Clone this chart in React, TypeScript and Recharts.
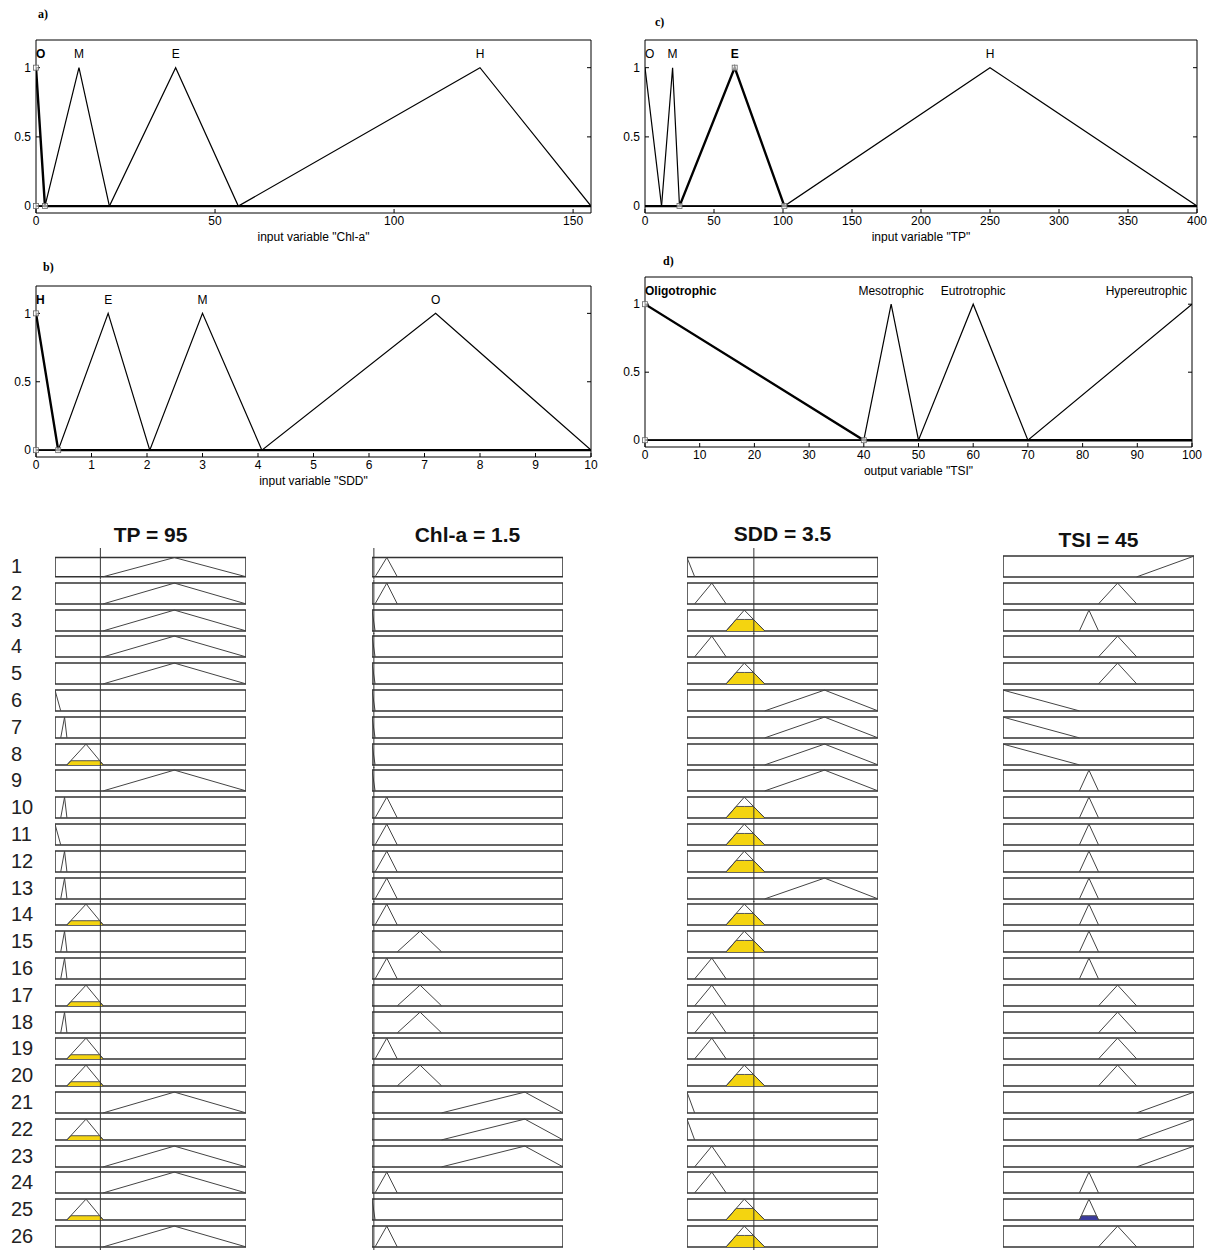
import React from "react";
import {
  LineChart,
  ComposedChart,
  Line,
  Area,
  XAxis,
  YAxis,
  ReferenceLine,
  ReferenceArea,
  ReferenceDot,
} from "recharts";

const FONT = '"Liberation Sans", Arial, Helvetica, sans-serif';
const SERIF = '"Liberation Serif", "Times New Roman", serif';

type Tri = [number, number, number];

// membership functions [a, b, c] (b = peak)
const mfNames = ["O", "M", "E", "H"];

const chlDomain: [number, number] = [0, 155];
const chlTicks = [0, 50, 100, 150];
const chlParams: Tri[] = [[0, 0, 2.5], [2.5, 12, 20.5], [20.5, 39, 56.5], [56.5, 124, 155]];

const tpDomain: [number, number] = [0, 400];
const tpTicks = [0, 50, 100, 150, 200, 250, 300, 350, 400];
const tpParams: Tri[] = [[0, 0, 12], [12, 20, 25], [25, 65, 101], [101, 250, 400]];

const sddDomain: [number, number] = [0, 10];
const sddTicks = [0, 1, 2, 3, 4, 5, 6, 7, 8, 9, 10];
const sddNames = ["H", "E", "M", "O"];
const sddParams: Tri[] = [[0, 0, 0.4], [0.4, 1.3, 2.05], [2.05, 3, 4.07], [4.07, 7.2, 10]];

const tsiDomain: [number, number] = [0, 100];
const tsiTicks = [0, 10, 20, 30, 40, 50, 60, 70, 80, 90, 100];
const tsiNames = ["O", "M", "E", "H"];
const tsiLabels = ["Oligotrophic", "Mesotrophic", "Eutrotrophic", "Hypereutrophic"];
const tsiParams: Tri[] = [[0, 0, 40], [40, 45, 50], [50, 60, 70], [70, 100, 100]];

// rule base (26 rules)
const tpRules = ["H","H","H","H","H","O","M","E","H","M","O","M","M","E","M","M","E","M","E","E","H","E","H","H","E","H"];
const chlRules = ["M","M","O","O","O","O","O","O","O","M","M","M","M","M","E","M","E","E","M","E","H","H","H","M","O","M"];
const sddRules = ["H","E","M","E","M","O","O","O","O","M","M","M","O","M","M","E","E","E","E","M","H","H","E","E","M","M"];
const tsiRules = ["H","E","M","E","E","O","O","O","M","M","M","M","M","M","M","M","E","E","E","E","H","H","H","M","M","E"];
const ruleStrength = [0,0,0,0,0,0,0,0,0,0,0,0,0,0,0,0,0,0,0,0,0,0,0,0,0.2,0];

// input values and the membership degrees shown shaded
const tpValue = 95;
const chlValue = 1.5;
const sddValue = 3.5;
const tpLevel = { E: 0.2 } as Record<string, number>;
const chlLevel = {} as Record<string, number>;
const sddLevel = { M: 0.55 } as Record<string, number>;

function panelPoints([a, b, c]: Tri, [lo, hi]: [number, number]) {
  const pts: { x: number; y: number }[] = [];
  if (a > lo) pts.push({ x: lo, y: 0 });
  if (a < b) pts.push({ x: a, y: 0 });
  pts.push({ x: b, y: 1 });
  if (c > b) pts.push({ x: c, y: 0 });
  if (c < hi) pts.push({ x: hi, y: 0 });
  return pts;
}

function cellPoints([a, b, c]: Tri, h: number) {
  const pts: { x: number; mf: number; cut: number }[] = [];
  if (a < b) {
    pts.push({ x: a, mf: 0, cut: 0 });
    if (h > 0) pts.push({ x: a + h * (b - a), mf: h, cut: h });
  }
  pts.push({ x: b, mf: 1, cut: h });
  if (c > b) {
    if (h > 0) pts.push({ x: c - h * (c - b), mf: h, cut: h });
    pts.push({ x: c, mf: 0, cut: 0 });
  }
  return pts;
}

type PanelProps = {
  left: number;
  top: number;
  width: number;
  height: number;
  marginRight: number;
  domain: [number, number];
  ticks: number[];
  params: Tri[];
  labels: string[];
  bold: number;
  title: string;
};

const tickStyle = { fontSize: 12, fill: "#000", fontFamily: FONT };

function MfPanel(p: PanelProps) {
  const [lo, hi] = p.domain;
  const sel = p.params[p.bold];
  const marks = [
    { x: sel[0], y: 0 },
    { x: sel[1], y: 1 },
    { x: sel[2], y: 0 },
  ];
  return (
    <div style={{ position: "absolute", left: p.left, top: p.top }}>
      <LineChart width={p.width} height={p.height} margin={{ top: 11, right: p.marginRight - 1, left: 6, bottom: 0 }}>
        <XAxis
          dataKey="x"
          type="number"
          domain={p.domain}
          ticks={p.ticks}
          allowDataOverflow
          stroke="#000"
          tickSize={-4}
          tickMargin={7}
          tick={tickStyle}
          height={30}
          label={{ value: p.title, position: "insideBottom", offset: 2, fontSize: 12, fill: "#000", fontFamily: FONT }}
        />
        <XAxis xAxisId="top" orientation="top" type="number" domain={p.domain} ticks={p.ticks} allowDataOverflow height={1} stroke="#000" tickSize={-4} tickFormatter={() => ""} />
        <YAxis
          type="number"
          domain={[-0.05, 1.2]}
          ticks={[0, 0.5, 1]}
          allowDataOverflow
          width={30}
          stroke="#000"
          tickSize={-4}
          tickMargin={9}
          tick={tickStyle}
        />
        <YAxis yAxisId="right" orientation="right" type="number" domain={[-0.05, 1.2]} ticks={[0, 0.5, 1]} allowDataOverflow width={1} stroke="#000" tickSize={-4} tickFormatter={() => ""} />
        {p.params.map((mf, i) => (
          <Line
            key={i}
            data={panelPoints(mf, p.domain)}
            dataKey="y"
            stroke="#000"
            strokeWidth={i === p.bold ? 2.4 : 1.2}
            dot={false}
            isAnimationActive={false}
          />
        ))}
        {marks.map((m, i) => (
          <ReferenceDot
            key={"m" + i}
            x={m.x}
            y={m.y}
            r={3}
            shape={(s: any) => (
              <rect x={s.cx - 2.5} y={s.cy - 2.5} width={5} height={5} fill="#fff" fillOpacity={0.6} stroke="#666" strokeWidth={0.8} />
            )}
          />
        ))}
        {p.params.map((mf, i) => {
          const anchor = mf[1] <= lo ? "start" : mf[1] >= hi ? "end" : "middle";
          return (
            <ReferenceDot
              key={"l" + i}
              x={mf[1]}
              y={1.1}
              r={1}
              shape={(s: any) => (
                <text
                  x={s.cx}
                  y={s.cy}
                  dx={anchor === "end" ? -5 : 0}
                  dy={4}
                  textAnchor={anchor}
                  fontSize={12}
                  fontFamily={FONT}
                  fontWeight={i === p.bold ? "bold" : "normal"}
                  fill="#000"
                >
                  {p.labels[i]}
                </text>
              )}
            />
          );
        })}
      </LineChart>
    </div>
  );
}

type CellProps = {
  params: Tri;
  domain: [number, number];
  level: number;
  fill: string;
  value?: number;
  extendTop?: boolean;
};

function RuleCell({ params, domain, level, fill, value, extendTop }: CellProps) {
  const data = cellPoints(params, level);
  const yTop = extendTop ? 1.5 : 1.15;
  return (
    <ComposedChart width={191} height={extendTop ? 31.6 : 27} data={data} margin={{ top: 0, right: 0, bottom: 0, left: 0 }}>
      <XAxis dataKey="x" type="number" domain={domain} allowDataOverflow hide />
      <YAxis type="number" domain={[-0.15, yTop]} allowDataOverflow hide />
      <ReferenceArea x1={domain[0]} x2={domain[1]} y1={0} y2={1} fill="#fff" fillOpacity={0} stroke="#333" strokeWidth={1.5} />
      {level > 0 && (
        <Area dataKey="cut" type="linear" baseValue={0} fill={fill} fillOpacity={1} stroke="#555" strokeWidth={1} isAnimationActive={false} />
      )}
      <Line dataKey="mf" type="linear" stroke="#444" strokeWidth={1} dot={false} isAnimationActive={false} />
      {value !== undefined && <ReferenceLine x={value} stroke="#333" strokeWidth={1} />}
    </ComposedChart>
  );
}

const viewerCols = [
  { title: "TP = 95", left: 55, titleTop: 521, domain: tpDomain, params: tpParams, names: mfNames, rules: tpRules, value: tpValue, levels: tpLevel },
  { title: "Chl-a = 1.5", left: 372, titleTop: 521, domain: chlDomain, params: chlParams, names: mfNames, rules: chlRules, value: chlValue, levels: chlLevel },
  { title: "SDD = 3.5", left: 687, titleTop: 520, domain: sddDomain, params: sddParams, names: sddNames, rules: sddRules, value: sddValue, levels: sddLevel },
];

const ROW_TOP = 553;
const ROW_STEP = 26.8;

export default function App() {
  return (
    <div style={{ position: "absolute", left: 0, top: 0, width: 1212, height: 1250, background: "#fff", fontFamily: FONT, overflow: "hidden" }}>
      <div style={{ position: "absolute", left: 38, top: 7, fontFamily: SERIF, fontWeight: "bold", fontSize: 12 }}>a)</div>
      <div style={{ position: "absolute", left: 655, top: 15, fontFamily: SERIF, fontWeight: "bold", fontSize: 12 }}>c)</div>
      <div style={{ position: "absolute", left: 43, top: 260, fontFamily: SERIF, fontWeight: "bold", fontSize: 12 }}>b)</div>
      <div style={{ position: "absolute", left: 663, top: 254, fontFamily: SERIF, fontWeight: "bold", fontSize: 12 }}>d)</div>

      <MfPanel left={0} top={28} width={600} height={215} marginRight={9} domain={chlDomain} ticks={chlTicks} params={chlParams} labels={mfNames} bold={0} title={'input variable "Chl-a"'} />
      <MfPanel left={609} top={28} width={600} height={215} marginRight={12} domain={tpDomain} ticks={tpTicks} params={tpParams} labels={mfNames} bold={2} title={'input variable "TP"'} />
      <MfPanel left={0} top={274} width={600} height={213} marginRight={9} domain={sddDomain} ticks={sddTicks} params={sddParams} labels={sddNames} bold={0} title={'input variable "SDD"'} />
      <MfPanel left={609} top={265} width={600} height={212} marginRight={17} domain={tsiDomain} ticks={tsiTicks} params={tsiParams} labels={tsiLabels} bold={0} title={'output variable "TSI"'} />

      {tpRules.map((_, i) => (
        <div key={"n" + i} style={{ position: "absolute", left: 11, top: ROW_TOP + i * ROW_STEP + 1, fontSize: 20, lineHeight: "24px", color: "#222" }}>
          {i + 1}
        </div>
      ))}

      {viewerCols.map((col) => (
        <React.Fragment key={col.title}>
          <div style={{ position: "absolute", left: col.left, top: col.titleTop, width: 191, textAlign: "center", fontSize: 21, fontWeight: "bold", color: "#111", lineHeight: "28px" }}>
            {col.title}
          </div>
          {col.rules.map((r, i) => (
            <div key={i} style={{ position: "absolute", left: col.left, top: ROW_TOP + i * ROW_STEP - (i === 0 ? 4.6 : 0) }}>
              <RuleCell
                params={col.params[col.names.indexOf(r)]}
                domain={col.domain}
                level={col.levels[r] || 0}
                fill="#f4d410"
                value={col.value}
                extendTop={i === 0}
              />
            </div>
          ))}
        </React.Fragment>
      ))}

      <div style={{ position: "absolute", left: 1003, top: 526, width: 191, textAlign: "center", fontSize: 21, fontWeight: "bold", color: "#111", lineHeight: "28px" }}>
        TSI = 45
      </div>
      {tsiRules.map((r, i) => (
        <div key={"t" + i} style={{ position: "absolute", left: 1003, top: ROW_TOP + i * ROW_STEP }}>
          <RuleCell params={tsiParams[tsiNames.indexOf(r)]} domain={tsiDomain} level={ruleStrength[i]} fill="#3b3b9e" />
        </div>
      ))}
    </div>
  );
}
